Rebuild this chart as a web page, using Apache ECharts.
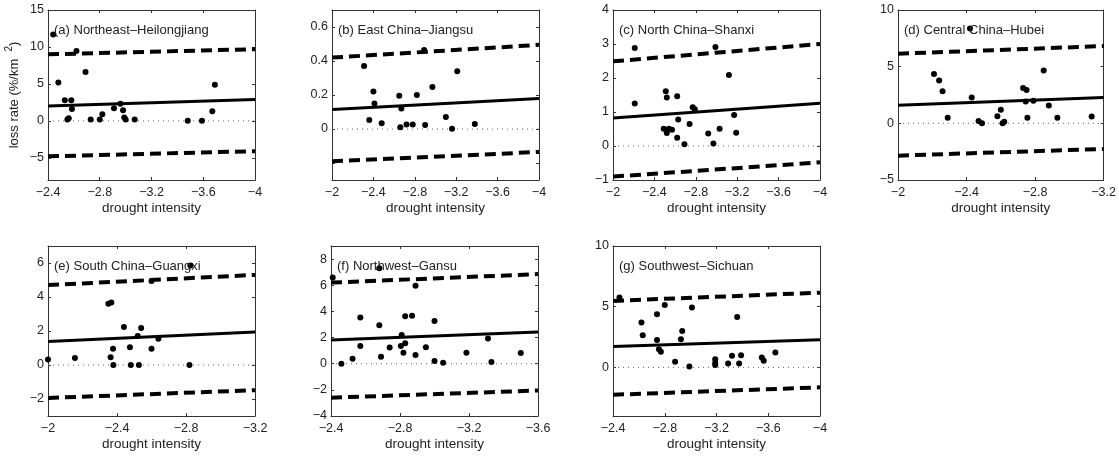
<!DOCTYPE html>
<html>
<head>
<meta charset="utf-8">
<script src="https://cdn.jsdelivr.net/npm/echarts@6/dist/echarts.min.js"></script>
<style>
  html, body { margin: 0; padding: 0; background: #fff; }
  #chart { width: 1119px; height: 456px; }
</style>
</head>
<body>
<div id="chart"></div>
<script>
// panel titles
var titles = ['(a) Northeast\u2013Heilongjiang', '(b) East China\u2013Jiangsu', '(c) North China\u2013Shanxi',
  '(d) Central China\u2013Hubei', '(e) South China\u2013Guangxi', '(f) Northwest\u2013Gansu', '(g) Southwest\u2013Sichuan'];

// x ranges (left, right) and tick labels
var xRangeA = [-2.4, -4], xTicksA = [-2.4, -2.8, -3.2, -3.6, -4];
var xRangeB = [-2, -4],   xTicksB = [-2, -2.4, -2.8, -3.2, -3.6, -4];
var xRangeC = [-2, -4],   xTicksC = [-2, -2.4, -2.8, -3.2, -3.6, -4];
var xRangeD = [-2, -3.2], xTicksD = [-2, -2.4, -2.8, -3.2];
var xRangeE = [-2, -3.2], xTicksE = [-2, -2.4, -2.8, -3.2];
var xRangeF = [-2.4, -3.6], xTicksF = [-2.4, -2.8, -3.2, -3.6];
var xRangeG = [-2.4, -4], xTicksG = [-2.4, -2.8, -3.2, -3.6, -4];

// y ranges, labelled ticks, all ticks
var yRangeA = [-8, 15],   yLabelsA = [-5, 0, 5, 10, 15], yTicksA = [-5, 0, 5, 10, 15];
var yRangeB = [-0.3, 0.7], yLabelsB = [0, 0.2, 0.4, 0.6], yTicksB = [-0.2, 0, 0.2, 0.4, 0.6];
var yRangeC = [-1, 4],    yLabelsC = [-1, 0, 1, 2, 3, 4], yTicksC = [-1, 0, 1, 2, 3, 4];
var yRangeD = [-5, 10],   yLabelsD = [-5, 0, 5, 10], yTicksD = [-5, 0, 5, 10];
var yRangeE = [-3, 7],    yLabelsE = [-2, 0, 2, 4, 6], yTicksE = [-2, 0, 2, 4, 6];
var yRangeF = [-4, 9],    yLabelsF = [-4, -2, 0, 2, 4, 6, 8], yTicksF = [-4, -2, 0, 2, 4, 6, 8];
var yRangeG = [-4, 10],   yLabelsG = [0, 5, 10], yTicksG = [0, 5, 10];

// fitted line and bounds, value at left and right edge
var fitA = [2.0, 2.9],    upA = [9.0, 9.7],   loA = [-4.8, -4.1];
var fitB = [0.115, 0.18], upB = [0.42, 0.495], loB = [-0.19, -0.135];
var fitC = [0.82, 1.26],  upC = [2.49, 3.0],  loC = [-0.9, -0.48];
var fitD = [1.6, 2.28],   upD = [6.14, 6.82], loD = [-2.85, -2.26];
var fitE = [1.38, 1.94],  upE = [4.7, 5.3],   loE = [-1.94, -1.48];
var fitF = [1.82, 2.43],  upF = [6.2, 6.85],  loF = [-2.6, -2.05];
var fitG = [1.73, 2.27],  upG = [5.48, 6.16], loG = [-2.25, -1.64];

// observed points [drought intensity, loss rate]
var ptsA = [[-2.44, 11.7], [-2.48, 5.2], [-2.53, 2.8], [-2.58, 2.8], [-2.55, 0.2], [-2.56, 0.35], [-2.585, 1.6],
  [-2.62, 9.45], [-2.69, 6.6], [-2.73, 0.2], [-2.8, 0.2], [-2.82, 0.9], [-2.91, 1.7], [-2.96, 2.3], [-2.98, 1.45],
  [-2.99, 0.45], [-3.0, 0.2], [-3.07, 0.2], [-3.48, 0], [-3.59, 0], [-3.67, 1.3], [-3.69, 4.9]];
var ptsB = [[-2.31, 0.37], [-2.36, 0.053], [-2.40, 0.22], [-2.41, 0.15], [-2.48, 0.034], [-2.65, 0.196],
  [-2.67, 0.12], [-2.66, 0.01], [-2.72, 0.026], [-2.78, 0.026], [-2.82, 0.2], [-2.89, 0.465], [-2.90, 0.024],
  [-2.97, 0.247], [-3.10, 0.07], [-3.16, 0.002], [-3.21, 0.34], [-3.38, 0.03]];
var ptsC = [[-2.21, 2.88], [-2.21, 1.25], [-2.51, 1.61], [-2.52, 1.43], [-2.49, 0.51], [-2.52, 0.38], [-2.54, 0.51],
  [-2.57, 0.48], [-2.62, 1.46], [-2.63, 0.78], [-2.62, 0.24], [-2.69, 0.05], [-2.74, 0.65], [-2.77, 1.14],
  [-2.79, 1.08], [-2.92, 0.37], [-2.97, 0.07], [-2.99, 2.91], [-3.03, 0.51], [-3.12, 2.09], [-3.17, 0.91], [-3.19, 0.39]];
var ptsD = [[-2.21, 4.36], [-2.24, 3.77], [-2.26, 2.82], [-2.29, 0.5], [-2.42, 8.37], [-2.43, 2.28], [-2.47, 0.21],
  [-2.49, 0], [-2.58, 0.62], [-2.60, 1.19], [-2.61, 0], [-2.62, 0.15], [-2.73, 3.12], [-2.75, 2.94], [-2.745, 1.93],
  [-2.755, 0.5], [-2.79, 2.0], [-2.85, 4.66], [-2.88, 1.57], [-2.93, 0.5], [-3.13, 0.6]];
var ptsE = [[-2.0, 0.32], [-2.156, 0.41], [-2.35, 3.6], [-2.367, 3.68], [-2.363, 0.45], [-2.377, 0.95], [-2.379, 0],
  [-2.44, 2.23], [-2.475, 1.05], [-2.48, 0], [-2.527, 0], [-2.52, 1.7], [-2.54, 2.17], [-2.60, 0.95], [-2.60, 4.94],
  [-2.64, 1.54], [-2.82, 0], [-2.825, 5.85]];
var ptsF = [[-2.41, 6.6], [-2.46, 0], [-2.525, 0.38], [-2.57, 3.53], [-2.57, 1.36], [-2.68, 7.29], [-2.68, 2.94],
  [-2.69, 0.54], [-2.74, 1.23], [-2.805, 1.36], [-2.81, 2.2], [-2.82, 0.84], [-2.83, 3.63], [-2.83, 1.56],
  [-2.87, 3.66], [-2.89, 5.96], [-2.89, 0.66], [-2.95, 1.25], [-3.0, 0.2], [-3.0, 3.27], [-3.05, 0.08],
  [-3.185, 0.84], [-3.31, 1.92], [-3.33, 0.13], [-3.5, 0.82]];
var ptsG = [[-2.45, 5.75], [-2.62, 3.7], [-2.63, 2.66], [-2.74, 4.38], [-2.74, 2.25], [-2.755, 1.5], [-2.77, 1.3],
  [-2.80, 5.15], [-2.88, 0.47], [-2.925, 2.33], [-2.935, 3.0], [-2.99, 0.08], [-3.01, 4.93], [-3.19, 0.68],
  [-3.19, 0.36], [-3.19, 0.2], [-3.29, 0.33], [-3.32, 0.96], [-3.36, 4.16], [-3.375, 0.33], [-3.39, 1.01],
  [-3.55, 0.82], [-3.565, 0.55], [-3.655, 1.23]];

var panels = [
  {x: xRangeA, xt: xTicksA, y: yRangeA, yl: yLabelsA, yt: yTicksA, fit: fitA, up: upA, lo: loA, pts: ptsA},
  {x: xRangeB, xt: xTicksB, y: yRangeB, yl: yLabelsB, yt: yTicksB, fit: fitB, up: upB, lo: loB, pts: ptsB},
  {x: xRangeC, xt: xTicksC, y: yRangeC, yl: yLabelsC, yt: yTicksC, fit: fitC, up: upC, lo: loC, pts: ptsC},
  {x: xRangeD, xt: xTicksD, y: yRangeD, yl: yLabelsD, yt: yTicksD, fit: fitD, up: upD, lo: loD, pts: ptsD},
  {x: xRangeE, xt: xTicksE, y: yRangeE, yl: yLabelsE, yt: yTicksE, fit: fitE, up: upE, lo: loE, pts: ptsE},
  {x: xRangeF, xt: xTicksF, y: yRangeF, yl: yLabelsF, yt: yTicksF, fit: fitF, up: upF, lo: loF, pts: ptsF},
  {x: xRangeG, xt: xTicksG, y: yRangeG, yl: yLabelsG, yt: yTicksG, fit: fitG, up: upG, lo: loG, pts: ptsG}
];

// grid boxes [left, top]
var boxes = [[48, 10], [332, 10], [613, 10], [898, 10], [48, 246], [331, 246], [613, 246]];
var boxW = 207, boxH = 170;

var txt = '#222';
var font = 'Liberation Sans, Arial, sans-serif';

function fmt(v) {
  var s = String(Math.round(v * 10) / 10);
  return s.replace('-', '\u2212');
}

var option = {
  animation: false,
  backgroundColor: '#fff',
  textStyle: {fontFamily: font},
  title: [], grid: [], xAxis: [], yAxis: [], series: []
};

panels.forEach(function (p, i) {
  var b = boxes[i];
  option.title.push({
    text: titles[i], left: b[0] + 6, top: b[1] + 14, padding: 0,
    textStyle: {fontSize: 13, fontWeight: 'normal', color: txt, fontFamily: font}
  });
  option.grid.push({left: b[0], top: b[1], width: boxW, height: boxH, containLabel: false});
  var xmin = Math.min(p.x[0], p.x[1]), xmax = Math.max(p.x[0], p.x[1]);
  var line = {onZero: false, lineStyle: {color: '#333', width: 1}};
  var tick = function (vals) {
    return {inside: true, length: 3, customValues: vals, lineStyle: {color: '#333'}};
  };
  // bottom and top x axes
  option.xAxis.push({
    type: 'value', gridIndex: i, min: xmin, max: xmax, inverse: true, position: 'bottom',
    axisLine: line, splitLine: {show: false}, axisTick: tick(p.xt),
    axisLabel: {customValues: p.xt, formatter: fmt, color: txt, fontSize: 12.5, margin: 6, fontFamily: font},
    name: 'drought intensity', nameLocation: 'middle', nameGap: 21,
    nameTextStyle: {color: txt, fontSize: 13.5, fontFamily: font}
  });
  option.xAxis.push({
    type: 'value', gridIndex: i, min: xmin, max: xmax, inverse: true, position: 'top',
    axisLine: line, splitLine: {show: false}, axisLabel: {show: false}, axisTick: tick(p.xt)
  });
  var yName = i === 0 ? {
    name: 'loss rate (%/km  {s|2})', nameLocation: 'middle', nameGap: 24,
    nameTextStyle: {color: txt, fontSize: 13, fontFamily: font,
      rich: {s: {fontSize: 10, color: txt, padding: [0, 0, 10, 0], fontFamily: font}}}
  } : {};
  option.yAxis.push(Object.assign({
    type: 'value', gridIndex: i, min: p.y[0], max: p.y[1], position: 'left',
    axisLine: line, splitLine: {show: false}, axisTick: tick(p.yt),
    axisLabel: {customValues: p.yl, formatter: fmt, color: txt, fontSize: 12.5, margin: 4, fontFamily: font}
  }, yName));
  option.yAxis.push({
    type: 'value', gridIndex: i, min: p.y[0], max: p.y[1], position: 'right',
    axisLine: line, splitLine: {show: false}, axisLabel: {show: false}, axisTick: tick(p.yt)
  });
  var xa = i * 2, ya = i * 2;
  var ends = function (v) { return [[p.x[0], v[0]], [p.x[1], v[1]]]; };
  option.series.push({
    type: 'line', xAxisIndex: xa, yAxisIndex: ya, data: [[p.x[0], 0], [p.x[1], 0]],
    symbol: 'none', silent: true, lineStyle: {color: '#666', width: 1, type: [1, 4]}
  });
  option.series.push({
    type: 'line', xAxisIndex: xa, yAxisIndex: ya, data: ends(p.up),
    symbol: 'none', lineStyle: {color: '#000', width: 4, type: [11, 6]}
  });
  option.series.push({
    type: 'line', xAxisIndex: xa, yAxisIndex: ya, data: ends(p.lo),
    symbol: 'none', lineStyle: {color: '#000', width: 4, type: [11, 6]}
  });
  option.series.push({
    type: 'line', xAxisIndex: xa, yAxisIndex: ya, data: ends(p.fit),
    symbol: 'none', lineStyle: {color: '#000', width: 3}
  });
  option.series.push({
    type: 'scatter', xAxisIndex: xa, yAxisIndex: ya, data: p.pts,
    symbol: 'circle', symbolSize: 6, itemStyle: {color: '#000', opacity: 1}, z: 5
  });
});

var chart = echarts.init(document.getElementById('chart'), null, {renderer: 'canvas'});
chart.setOption(option);
</script>
</body>
</html>
